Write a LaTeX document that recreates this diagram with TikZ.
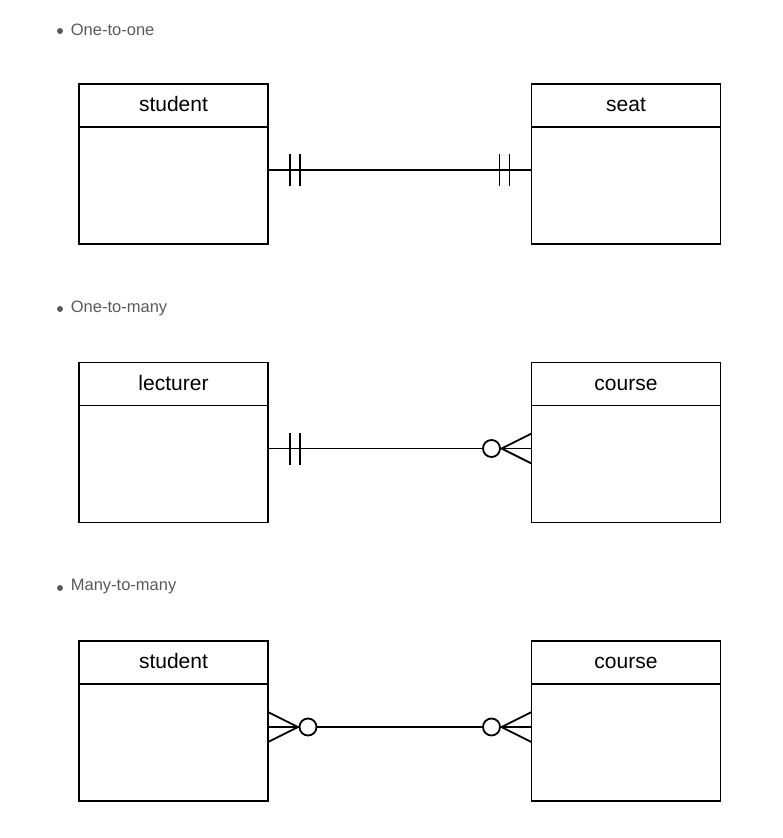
\documentclass[tikz,border=0pt]{standalone}
\usepackage{fontspec}
\setmainfont{Liberation Sans}
\usetikzlibrary{positioning}
\definecolor{bulletgray}{HTML}{5A5A5A}

\begin{document}
\begin{tikzpicture}[x=1pt,y=-1pt,line width=1.8pt,
	head/.style={draw,outer sep=0pt,minimum width=189pt,minimum height=43pt,text height=15pt,text depth=3pt,font=\fontsize{21}{25}\selectfont},
	body/.style={draw,outer sep=0pt,minimum width=189pt,minimum height=117pt},
	item/.style={anchor=west,text=bulletgray,inner sep=0pt,font=\fontsize{16.5}{19}\selectfont}]
	\useasboundingbox (0,0) rectangle (783,838);
	
	% bullet headings
	\node[item] (one) at (70,30) {One-to-one};
	\node[item] (onemany) at (70,308) {One-to-many};
	\node[item] (manymany) at (70,587) {Many-to-many};
	\foreach \t in {one,onemany,manymany}
		\fill[bulletgray] ([xshift=-10pt,yshift=-1pt]\t.west) circle (3);
	
	% entities
	\node[head] (student) at (173.5,105.5) {student};
	\node[body, below=0pt of student] (studentb) {};
	\node[head] (seat) at (626,105.5) {seat};
	\node[body, below=0pt of seat] (seatb) {};
	
	\node[head] (lecturer) at (173.5,384) {lecturer};
	\node[body, below=0pt of lecturer] (lecturerb) {};
	\node[head] (course) at (626,384) {course};
	\node[body, below=0pt of course] (courseb) {};
	
	\node[head] (student2) at (173.5,662.5) {student};
	\node[body, below=0pt of student2] (student2b) {};
	\node[head] (course2) at (626,662.5) {course};
	\node[body, below=0pt of course2] (course2b) {};
	
	% connector ends
	\coordinate (a1) at ([yshift=-43pt]studentb.north east);
	\coordinate (b1) at ([yshift=-43pt]seatb.north west);
	\coordinate (a2) at ([yshift=-43pt]lecturerb.north east);
	\coordinate (b2) at ([yshift=-43pt]courseb.north west);
	\coordinate (a3) at ([yshift=-43pt]student2b.north east);
	\coordinate (b3) at ([yshift=-43pt]course2b.north west);
	
	\draw (a1)--(b1);
	\draw (a2)--(b2);
	\draw (a3)--(b3);
	
	% one and only one
	\foreach \p/\s in {a1/1,b1/-1,a2/1}{
		\draw ([xshift=\s*22pt]\p) ++(0,-16) -- ++(0,32);
		\draw ([xshift=\s*32pt]\p) ++(0,-16) -- ++(0,32);
	}
	
	% zero or many
	\foreach \p/\s in {b2/-1,a3/1,b3/-1}{
		\draw ([yshift=15pt]\p) -- ([xshift=\s*30pt]\p) -- ([yshift=-15pt]\p);
		\draw ([xshift=\s*30pt]\p) -- (\p);
		\draw[fill=white] ([xshift=\s*40pt]\p) circle (8.5);
	}
\end{tikzpicture}
\end{document}
